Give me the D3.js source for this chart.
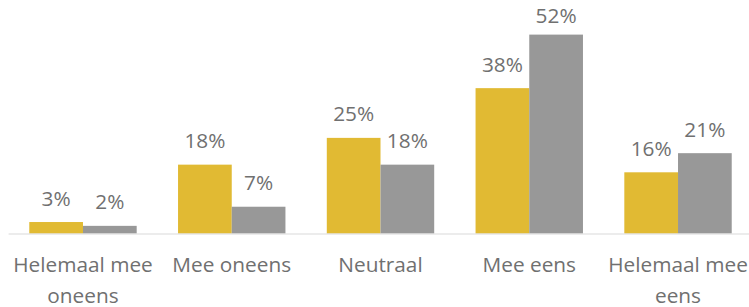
<!DOCTYPE html>
<html>
<head>
<meta charset="utf-8">
<script src="https://cdn.jsdelivr.net/npm/d3@7"></script>
<style>
  body { margin: 0; background: #fff; }
  text { font-family: "Open Sans", sans-serif; fill: #707070; }
</style>
</head>
<body>
<svg id="chart" width="749" height="307"></svg>
<script>
// Data
var categories = ['Helemaal mee oneens', 'Mee oneens', 'Neutraal', 'Mee eens', 'Helemaal mee eens'];
var seriesNames = ['a', 'b'];
var seriesA = [3, 18, 25, 38, 16];
var seriesB = [2, 7, 18, 52, 21];
var colors = ['#E1BA33', '#989898'];

var svg = d3.select('#chart');

var fontSize = 20.8,
	labelGap = 16.5,
	minLabelY = 23;

// Scales
var x = d3.scaleBand()
	.domain(categories)
	.range([8.6, 752.4])
	.paddingInner(0.278)
	.paddingOuter(0.139);

var xs = d3.scaleBand()
	.domain(seriesNames)
	.range([0, x.bandwidth()]);

var y = d3.scaleLinear()
	.domain([0, 60])
	.range([233.5, 4]);

var rows = categories.map(function(c, i) {
	return { cat: c, values: [seriesA[i], seriesB[i]] };
});

// Bars
var groups = svg.selectAll('g.cat')
	.data(rows)
	.enter().append('g')
	.attr('class', 'cat')
	.attr('transform', function(d) { return 'translate(' + x(d.cat) + ',0)'; });

groups.selectAll('rect')
	.data(function(d) { return d.values; })
	.enter().append('rect')
	.attr('x', function(d, i) { return xs(seriesNames[i]); })
	.attr('width', xs.bandwidth())
	.attr('y', function(d) { return y(d); })
	.attr('height', function(d) { return y(0) - y(d); })
	.style('fill', function(d, i) { return colors[i]; });

// Value labels (kept inside the plot top)
groups.selectAll('text.val')
	.data(function(d) { return d.values; })
	.enter().append('text')
	.attr('class', 'val')
	.attr('x', function(d, i) { return xs(seriesNames[i]) + xs.bandwidth() / 2; })
	.attr('y', function(d) { return Math.max(y(d) - labelGap, minLabelY); })
	.attr('text-anchor', 'middle')
	.style('font-size', fontSize + 'px')
	.text(function(d) { return d + '%'; });

// Baseline
svg.append('line')
	.attr('x1', x.range()[0])
	.attr('x2', x.range()[1])
	.attr('y1', y(0) + 0.5)
	.attr('y2', y(0) + 0.5)
	.style('stroke', '#D9D9D9')
	.style('stroke-width', 1);

// Axis labels, wrapped to the category width
var xAxis = d3.axisBottom(x).tickSize(0).tickPadding(0);
var axisG = svg.append('g')
	.attr('transform', 'translate(0,' + y(0) + ')')
	.call(xAxis);
axisG.select('.domain').remove();
axisG.selectAll('.tick text')
	.attr('y', 38)
	.attr('dy', null)
	.style('font-size', fontSize + 'px')
	.style('font-family', '"Open Sans", sans-serif')
	.attr('fill', '#707070')
	.call(wrap, x.step() - 4);

function wrap(sel, width) {
	sel.each(function() {
		var text = d3.select(this),
			words = text.text().split(/\s+/),
			line = [],
			lineNo = 0,
			yPos = +text.attr('y'),
			tspan = text.text(null).append('tspan').attr('x', 0).attr('y', yPos);
		words.forEach(function(w) {
			line.push(w);
			tspan.text(line.join(' '));
			if (tspan.node().getComputedTextLength() > width && line.length > 1) {
				line.pop();
				tspan.text(line.join(' '));
				line = [w];
				lineNo++;
				tspan = text.append('tspan').attr('x', 0).attr('y', yPos + lineNo * 31).text(w);
			}
		});
	});
}
</script>
</body>
</html>
